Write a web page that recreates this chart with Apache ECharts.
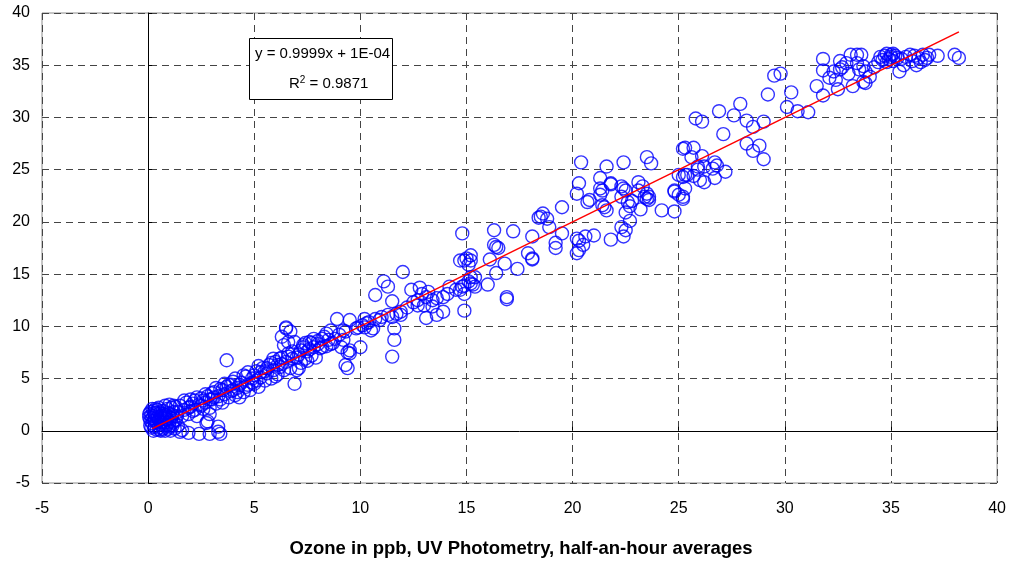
<!DOCTYPE html>
<html>
<head>
<meta charset="utf-8">
<script src="https://cdn.jsdelivr.net/npm/echarts@6/dist/echarts.min.js"></script>
<style>
  html, body { margin: 0; padding: 0; background: #fff; }
  #chart { width: 1009px; height: 563px; }
</style>
</head>
<body>
<div id="chart"></div>
<script>
// Axis range (ppb) shared by both axes
const axisMin = -5;
const axisMax = 40;
const axisStep = 5;

// Half-hour averages: [UV photometry ppb, comparison ppb]
const nearZero = [
  [0.05,1.6],[0.05,1.3],[0.1,1.0],[0.1,1.8],[0.15,1.45],[0.2,0.7],[0.2,1.2],[0.25,1.9],[0.3,0.4],[0.3,1.0],
  [0.35,1.5],[0.4,0.1],[0.4,0.8],[0.45,1.3],[0.45,2.0],[0.5,0.3],[0.5,1.0],[0.55,1.7],[0.6,0.0],[0.6,0.6],
  [0.65,1.2],[0.7,0.2],[0.7,1.9],[0.75,0.9],[0.8,0.0],[0.8,1.5],[0.85,0.5],[0.9,1.1],[0.9,2.1],[0.95,0.2],
  [1.0,0.8],[1.0,1.6],[1.05,0.0],[1.1,1.2],[1.1,2.2],[1.15,0.5],[1.2,1.8],[1.25,0.2],[1.3,1.0],[1.3,2.3],
  [1.4,0.5],[0.15,0.3],[0.25,0.0],[0.35,2.1],[0.55,0.1],[0.75,1.4],[0.95,1.7],[0.3,1.7],[0.6,1.4],[1.2,0.8],
  [0.1,0.5],[0.2,2.1],[0.4,1.7],[0.5,2.2],[0.7,1.6],[0.8,0.8],[1.0,0.4],[1.15,1.5],[0.25,1.4],[0.65,0.8],
  [0.9,0.6],[1.35,1.4],
  [1.5,-0.1],[1.6,0.05],[1.9,-0.2],[2.4,-0.3],[2.9,-0.3],[3.3,-0.1],[3.4,-0.3],[3.3,0.4],[2.75,0.75],[2.9,1.6],
  [2.8,0.9],[3.7,6.75]
];

const lowRange = [
  [1.5,2.4],[1.6,1.4],[1.7,2.0],[1.8,2.7],[1.9,1.6],[2.0,2.3],[2.1,1.9],[2.2,2.9],[2.3,1.4],[2.4,2.5],
  [2.5,3.1],[2.6,2.1],[2.7,2.7],[2.8,3.3],[2.9,2.2],[3.0,3.0],[3.1,3.7],[3.2,2.6],[3.3,3.3],[3.4,4.0],
  [3.5,2.7],[3.6,3.5],[3.7,4.2],[3.8,3.2],[3.9,3.8],[4.0,4.7],[4.1,3.4],[4.2,4.1],[4.3,3.2],[4.4,4.6],
  [4.5,3.7],[4.6,5.2],[4.7,4.4],[4.8,3.9],[4.9,5.0],[5.0,4.5],[5.1,5.7],[5.2,4.2],[5.3,5.1],[5.4,6.0],
  [5.5,4.8],[5.6,5.5],[5.7,6.3],[5.8,5.0],[5.9,5.8],[6.0,6.6],[6.1,5.4],[6.2,6.1],[6.3,7.0],[6.4,5.8],
  [6.5,6.6],[6.6,7.4],[6.7,6.0],[6.8,6.9],[6.9,4.5],[7.0,5.8],[7.1,7.3],[7.2,6.5],[7.3,8.0],[7.4,6.9],
  [7.5,7.6],[7.6,8.5],[7.7,7.2],[7.8,8.0],[7.9,7.0],[8.0,8.3],
  [1.2,2.4],[2.1,2.6],[2.6,2.9],[3.0,3.6],[3.4,3.0],[3.8,4.4],[4.2,3.7],[4.6,4.2],[5.0,5.3],[5.3,5.6],
  [5.6,6.0],[6.0,5.2],[6.2,6.9],[6.5,9.9],[6.4,8.2],[6.6,8.5],[6.9,8.5],[7.3,8.2],[7.7,8.4],[6.7,9.5],
  [6.3,9.0],[6.5,9.8],[7.1,6.0],
  [0.8,2.4],[1.0,2.5],[1.4,1.8],[1.7,2.9],[1.9,2.2],[2.0,3.0],[2.2,2.0],[2.3,3.2],[2.5,2.4],[2.7,3.5],
  [2.9,3.0],[3.1,3.2],[3.2,4.1],[3.5,3.9],[3.6,4.5],[3.9,4.4],[4.0,3.9],[4.1,5.0],[4.3,4.4],[4.5,5.3],
  [4.7,5.6],[4.9,4.6],[5.1,4.8],[5.2,6.2],[5.5,5.7],[5.8,6.5],[5.9,6.9],[6.1,6.3],[6.3,6.4],[6.6,7.1],
  [6.8,7.6],[7.0,7.0],[7.2,7.7],[7.4,8.4],[7.5,6.7],[7.6,7.8],[8.2,8.8],[8.4,8.1],[8.6,8.3]
];

const midRange = [
  [8.2,8.0],[8.1,7.9],[8.4,9.3],[8.5,8.7],[8.7,8.4],[8.8,8.8],[8.9,10.7],[9.1,8.0],[9.2,9.6],[9.3,9.5],
  [9.2,8.7],[9.4,7.5],[9.5,7.4],[9.3,6.3],[9.4,6.0],[9.5,10.6],[9.5,7.7],[9.8,9.8],[9.9,9.9],[10.0,8.0],
  [10.1,10.1],[10.2,9.9],[10.3,10.3],[10.2,10.7],[10.4,10.4],[10.5,9.6],[10.6,9.8],[10.7,10.7],[10.9,10.6],[11.0,10.9],
  [11.3,11.1],[11.5,10.9],[11.6,9.8],[11.6,8.7],[11.5,7.1],[11.7,11.2],[11.9,11.4],[11.9,11.1],[12.0,15.2],[11.1,14.3],
  [11.3,13.8],[10.7,13.0],[11.5,12.4],[8.3,9.0],[8.6,9.6],[9.0,9.2],[7.8,8.8],[8.0,8.6],
  [12.4,13.5],[12.8,13.7],[12.9,13.1],[13.1,12.8],[13.2,13.3],[12.7,12.5],[12.7,12.0],[13.0,12.0],[13.4,12.5],[13.6,12.7],
  [13.9,12.8],[14.1,13.1],[14.2,13.8],[14.5,13.5],[14.7,13.5],[14.9,13.9],[13.9,11.4],[13.6,11.1],[13.1,10.8],[14.9,11.5],
  [13.4,11.9],[12.2,11.8],[12.5,12.3],
  [14.7,16.3],[14.9,16.3],[15.2,16.8],[15.2,16.3],[15.1,15.9],[15.2,14.7],[15.2,14.1],[15.4,13.8],[14.8,18.9],[16.3,19.2],
  [17.2,19.1],[16.3,17.8],[16.5,17.5],[16.4,17.6],[18.1,18.6],[18.5,20.5],[18.4,20.4],[18.6,20.8],[18.8,20.3],[18.9,19.5],
  [19.5,21.4],[19.5,18.9],[19.2,17.5],[17.9,17.0],[18.1,16.5],[18.1,16.4],[17.4,15.5],[16.8,16.0],[16.1,16.4],[15.0,16.5],
  [15.4,14.7],[15.1,14.3],[15.3,14.0],[16.0,14.0],[16.4,15.1],[16.9,12.8],[14.8,13.8],[14.9,13.1],[16.9,12.6]
];

const upperRange = [
  [20.4,25.7],[21.6,25.3],[22.4,25.7],[23.5,26.2],[23.7,25.6],[20.3,23.7],[20.2,22.7],[20.7,21.9],[20.8,22.1],[21.3,24.2],
  [21.4,23.0],[21.3,23.2],[21.8,23.6],[21.3,22.6],[21.4,21.6],[21.5,21.4],[21.6,21.1],[22.4,23.2],[22.5,23.0],[22.3,22.4],
  [22.6,21.9],[22.8,22.0],[23.1,23.8],[23.1,23.0],[23.2,21.2],[22.7,21.5],[22.5,20.9],[22.7,20.1],[22.3,19.5],[22.5,19.2],
  [22.4,18.6],[21.8,18.3],[23.5,22.2],[23.6,22.1],[23.5,22.7],[24.2,21.1],[24.8,21.0],[24.8,23.0],[25.0,22.6],[25.2,22.2],
  [25.2,24.3],[25.4,24.5],[25.2,27.0],[20.2,18.4],[20.3,18.2],[20.6,18.6],[21.0,18.7],[20.5,17.8],[20.3,17.3],[20.2,17.0],
  [21.8,23.7],[22.3,23.4],[23.3,23.4],[23.4,22.4],[23.6,22.4],[19.2,18.0],
  [25.3,27.1],[25.7,27.1],[25.6,26.2],[26.1,26.3],[25.9,25.3],[26.2,25.3],[26.7,25.7],[26.8,25.4],[27.2,24.8],[26.6,25.1],
  [26.7,24.2],[26.2,23.8],[25.0,24.5],[25.3,24.5],[25.7,24.4],[24.8,22.9],[25.3,23.2],[25.2,22.4],[25.8,29.9],[26.1,29.6],
  [26.9,30.6],[27.1,28.4],[27.6,30.2],[27.9,31.3],[28.2,29.7],[28.5,29.1],[29.0,29.6],[28.2,27.5],[28.5,26.8],[28.8,27.3],
  [29.0,26.0],[29.2,32.2],[29.5,34.0],[29.8,34.2],[30.3,32.4],[30.1,31.0],[30.6,30.6],[31.1,30.5],[25.9,25.0],[26.0,24.0]
];

const topRange = [
  [31.8,35.6],[31.8,34.5],[32.6,35.4],[32.6,34.6],[33.1,36.0],[33.4,36.0],[33.6,36.0],[33.7,34.9],[32.3,34.4],[32.1,33.8],
  [32.4,33.6],[31.5,33.0],[31.8,32.1],[32.5,32.7],[33.2,33.0],[33.8,33.3],[33.7,33.4],[34.0,33.9],[33.0,34.2],[32.7,34.8],
  [33.4,35.2],[33.8,34.4],[34.5,35.8],[34.6,35.5],[34.7,35.9],[34.8,36.1],[34.9,35.6],[35.0,35.8],[35.0,36.0],[35.1,35.4],
  [35.2,35.9],[35.3,35.7],[35.1,36.1],[34.8,35.3],[35.4,34.4],[35.6,35.0],[35.9,36.0],[36.2,35.0],[36.3,35.7],[36.5,36.0],
  [36.7,35.7],[36.8,36.0],[37.2,35.9],[38.0,36.0],[38.2,35.7],[35.5,35.6],[35.7,35.8],[36.0,35.4],[36.4,35.3],[36.6,35.5],
  [36.1,35.9],[34.4,35.3],[32.9,35.2],[34.2,34.8],[33.5,34.6]
];

// Linear trend: y = slope * x + intercept, drawn over the span of the data
const trendSlope = 0.9999;
const trendIntercept = 0.0001;
const trendSpan = [0.2, 38.2];
const equationText = 'y = 0.9999x + 1E-04';
const r2Text = '0.9871';
const xTitle = 'Ozone in ppb, UV Photometry, half-an-hour averages';

const points = [].concat(nearZero, lowRange, midRange, upperRange, topRange);
const trend = trendSpan.map(x => [x, trendSlope * x + trendIntercept]);

const FONT = '"Liberation Sans", Arial, sans-serif';

const chart = echarts.init(document.getElementById('chart'), null, { renderer: 'canvas' });

const baseAxis = {
  type: 'value',
  min: axisMin,
  max: axisMax,
  interval: axisStep
};

chart.setOption({
  animation: false,
  backgroundColor: '#ffffff',
  grid: {
    left: 42, right: 8, top: 13, bottom: 80,
    show: true, borderColor: '#8c8c8c', borderWidth: 1, backgroundColor: 'transparent'
  },
  xAxis: [
    Object.assign({}, baseAxis, {
      position: 'bottom',
      axisLine: { show: false, onZero: false },
      axisTick: { show: false },
      axisLabel: { color: '#000', fontFamily: FONT, fontSize: 16, margin: 18 },
      splitLine: { show: true, lineStyle: { color: '#444', width: 1, type: [7, 5] } }
    }),
    Object.assign({}, baseAxis, {
      axisLine: { show: true, onZero: true, lineStyle: { color: '#000', width: 1 } },
      axisTick: { show: true, length: 4, inside: false, lineStyle: { color: '#000' } },
      axisLabel: { show: false },
      splitLine: { show: false }
    })
  ],
  yAxis: [
    Object.assign({}, baseAxis, {
      position: 'left',
      axisLine: { show: false, onZero: false },
      axisTick: { show: false },
      axisLabel: { color: '#000', fontFamily: FONT, fontSize: 16, margin: 12 },
      splitLine: { show: true, lineStyle: { color: '#444', width: 1, type: [7, 5] } }
    }),
    Object.assign({}, baseAxis, {
      axisLine: { show: true, onZero: true, lineStyle: { color: '#000', width: 1 } },
      axisTick: { show: true, length: 4, inside: false, lineStyle: { color: '#000' } },
      axisLabel: { show: false },
      splitLine: { show: false }
    })
  ],
  series: [
    {
      type: 'scatter',
      xAxisIndex: 0, yAxisIndex: 0,
      data: points,
      symbol: 'circle',
      symbolSize: 13,
      itemStyle: { color: 'rgba(0,0,0,0)', borderColor: '#0000ff', borderWidth: 1.4 },
      emphasis: { disabled: true },
      z: 3
    },
    {
      type: 'line',
      xAxisIndex: 0, yAxisIndex: 0,
      data: trend,
      showSymbol: false,
      lineStyle: { color: '#ff0000', width: 1.5 },
      z: 4
    }
  ],
  graphic: [
    {
      type: 'rect',
      shape: { x: 249.5, y: 38.5, width: 143, height: 61 },
      style: { fill: '#fff', stroke: '#000', lineWidth: 1 },
      z: 10
    },
    {
      type: 'text',
      x: 255, y: 54,
      style: {
        text: equationText, font: '15px ' + FONT, fill: '#000',
        textVerticalAlign: 'middle'
      },
      z: 11
    },
    {
      type: 'text',
      x: 289, y: 83,
      style: {
        text: '{r|R}{s|2}{r| = ' + r2Text + '}',
        textVerticalAlign: 'middle',
        rich: {
          r: { font: '15px ' + FONT, fill: '#000', verticalAlign: 'bottom' },
          s: { font: '10px ' + FONT, fill: '#000', verticalAlign: 'top', padding: [0, 0, 6, 0] }
        }
      },
      z: 11
    },
    {
      type: 'text',
      x: 521, y: 549,
      style: {
        text: xTitle, font: 'bold 18.5px ' + FONT, fill: '#000',
        textAlign: 'center', textVerticalAlign: 'middle'
      }
    }
  ]
});
</script>
</body>
</html>
